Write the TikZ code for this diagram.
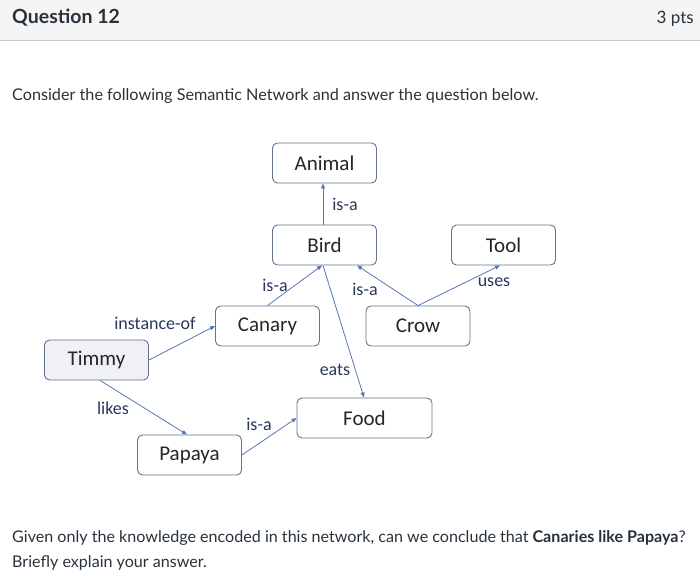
\documentclass[tikz,border=0pt]{standalone}
\usepackage{fontspec}
\setmainfont{Lato}
\newfontfamily\diag{Carlito}
\usetikzlibrary{arrows.meta}
\definecolor{hdrbg}{RGB}{245,245,245}
\definecolor{hdrline}{RGB}{200,200,200}
\definecolor{txt}{RGB}{40,50,60}
\definecolor{edgec}{RGB}{84,120,180}
\definecolor{boxc}{RGB}{100,115,140}
\definecolor{lblc}{RGB}{40,55,90}
\definecolor{timfill}{RGB}{240,241,244}
\tikzset{
  concept/.style={draw=boxc, line width=0.9pt, rounded corners=5pt, minimum width=104pt, minimum height=40pt, font=\diag\fontsize{21}{24}\selectfont, text=black!85, inner sep=0pt},
  rel/.style={draw=edgec, line width=0.8pt, -{Triangle[length=5pt,width=4pt]}},
  lbl/.style={font=\diag\fontsize{18}{21}\selectfont, text=lblc, inner sep=0pt}
}
\begin{document}
\begin{tikzpicture}[x=1pt,y=-1pt]
\useasboundingbox (0,0) rectangle (700,583);
\fill[hdrbg] (0,0) rectangle (700,41);
\draw[hdrline, line width=1pt] (0,41) -- (700,41);
\node[anchor=base west, text=txt, font=\fontsize{19.5}{22}\selectfont\bfseries, inner sep=0pt] (q) at (12,24) {Question 12};
\node[anchor=base east, text=txt, font=\fontsize{17}{20}\selectfont, inner sep=0pt] (pts) at (694,24) {3 pts};
\node[anchor=base west, text=txt, font=\fontsize{16.2}{20}\selectfont, inner sep=0pt] (intro) at (12,100) {Consider the following Semantic Network and answer the question below.};

\node[concept] (animal) at (324.5,163) {Animal};
\node[concept] (bird) at (324.5,245) {Bird};
\node[concept] (tool) at (503.5,245) {Tool};
\node[concept] (canary) at (267.5,326) {Canary};
\node[concept] (crow) at (418,326) {Crow};
\node[concept, fill=timfill] (timmy) at (96.5,360) {Timmy};
\node[concept, minimum width=135pt] (food) at (364.5,418) {Food};
\node[concept] (papaya) at (189.5,455) {Papaya};

\draw[rel] (bird.north -| 323,0) -- (animal.south -| 323,0);
\draw[rel] (canary.north) -- (bird.south -| 322,0);
\draw[rel] (crow.north) -- (bird.south -| 357,0);
\draw[rel] (crow.north) -- (tool.south -| 500,0);
\draw[rel] (bird.south -| 323,0) -- (food.north -| 364,0);
\draw[rel] (timmy.east) -- (canary.west);
\draw[rel] (timmy.south -| 100,0) -- (papaya.north -| 187,0);
\draw[rel] (papaya.east) -- (food.west);

\node[lbl] (l1) at (345,204) {is-a};
\node[lbl] (l2) at (275,285) {is-a};
\node[lbl] (l3) at (365,289) {is-a};
\node[lbl] (l4) at (494,282) {uses};
\node[lbl] (l5) at (335,370) {eats};
\node[lbl] (l6) at (155,323) {instance-of};
\node[lbl] (l7) at (113,408) {likes};
\node[lbl] (l8) at (259,424) {is-a};

\node[anchor=base west, text=txt, font=\fontsize{16.1}{20}\selectfont, inner sep=0pt] (q1) at (12,542) {Given only the knowledge encoded in this network, can we conclude that \textbf{Canaries like Papaya}?};
\node[anchor=base west, text=txt, font=\fontsize{16.1}{20}\selectfont, inner sep=0pt] (q2) at (12,567) {Briefly explain your answer.};
\end{tikzpicture}
\end{document}
